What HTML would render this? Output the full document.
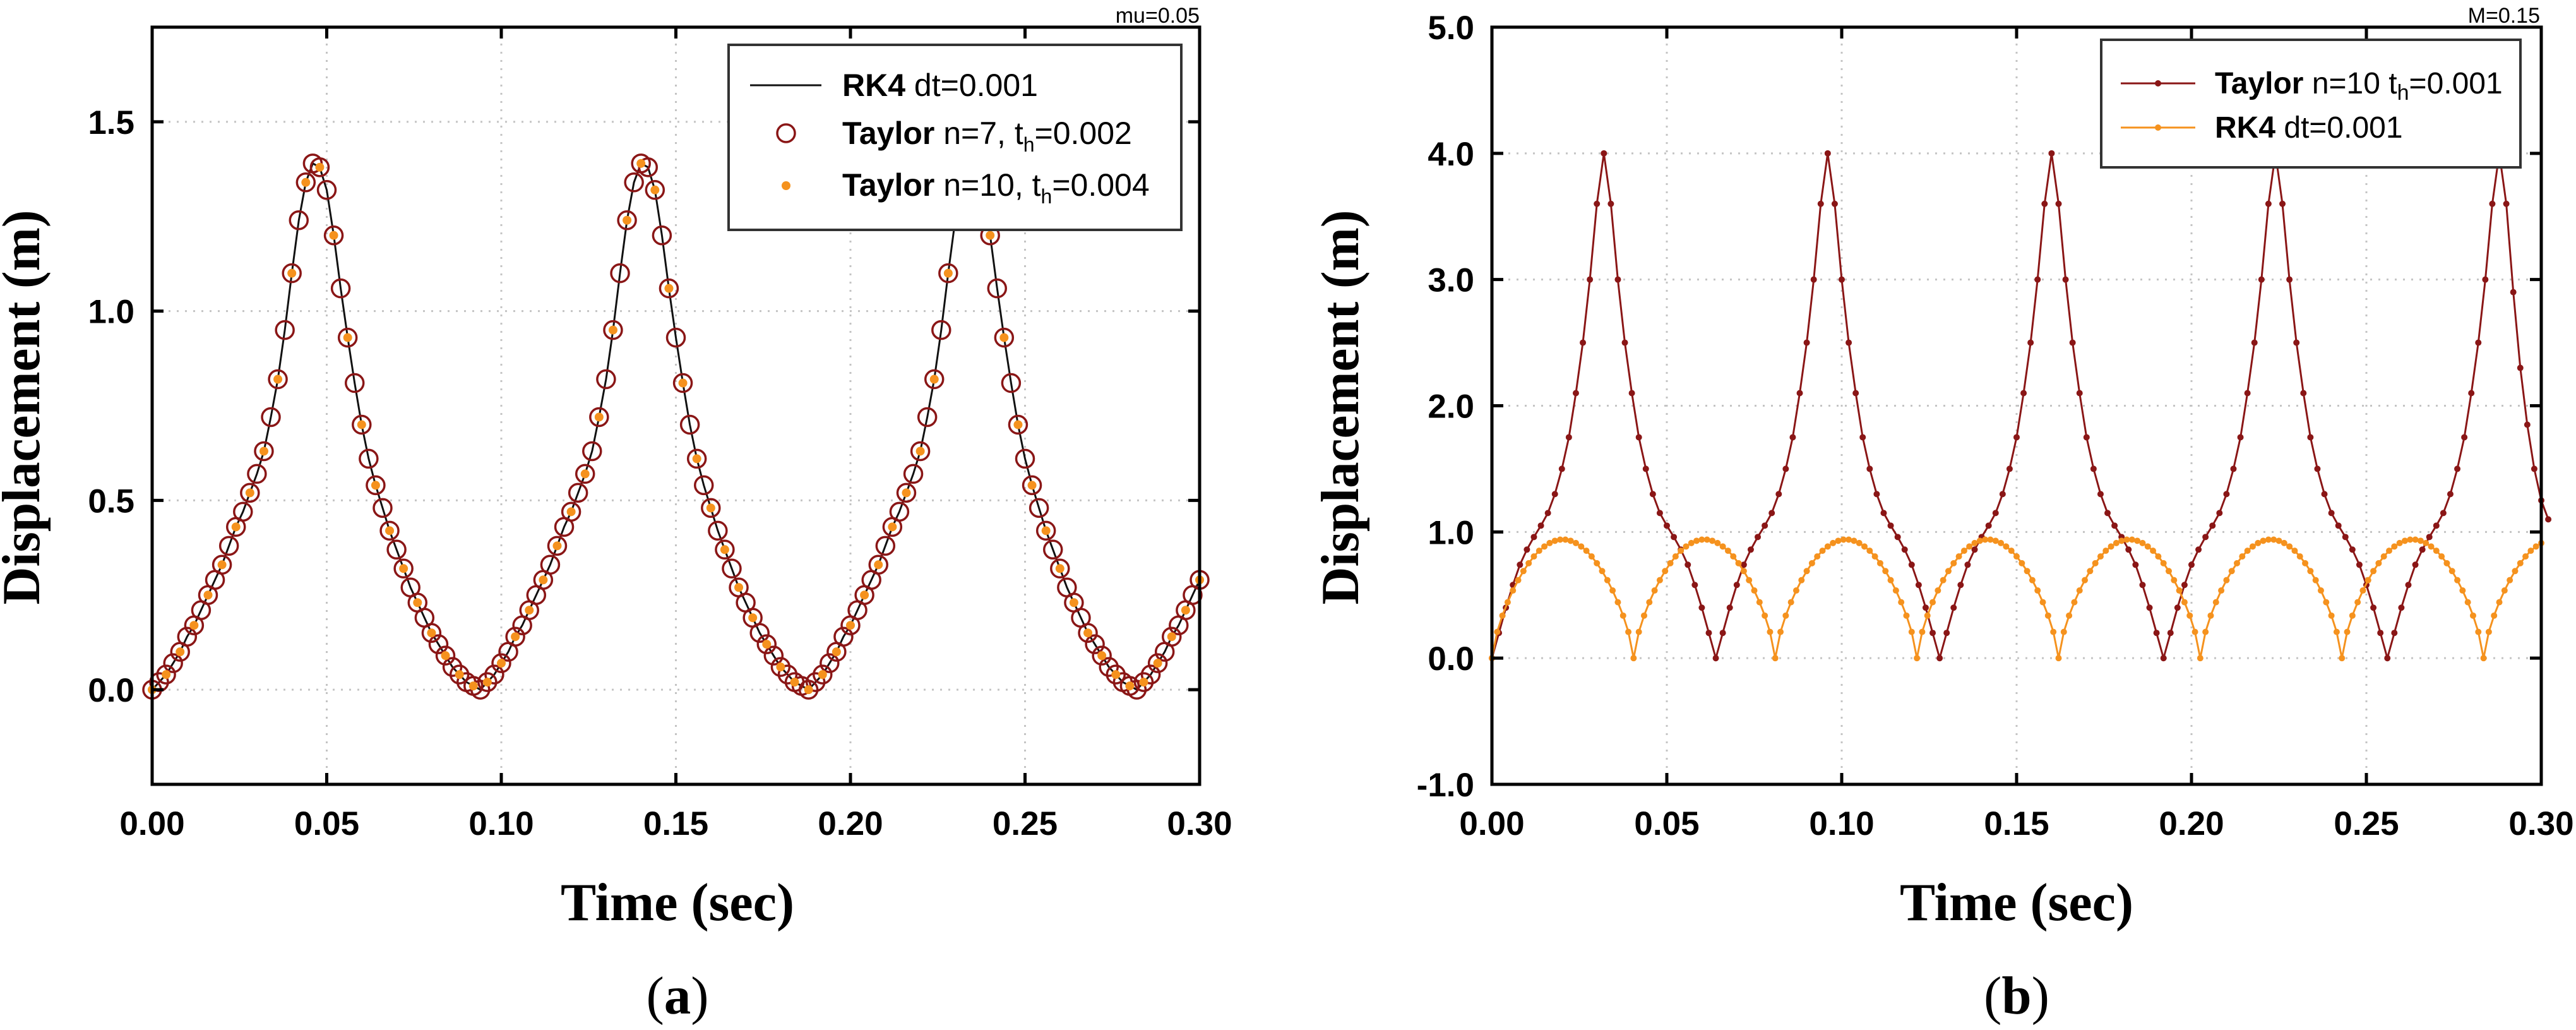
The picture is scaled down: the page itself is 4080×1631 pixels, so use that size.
<!DOCTYPE html>
<html><head><meta charset="utf-8"><style>
html,body{margin:0;padding:0;background:#fff;}
svg{display:block;}
</style></head><body>
<svg id="fig" width="4080" height="1631" viewBox="0 0 4080 1631" xmlns="http://www.w3.org/2000/svg">
<rect x="0" y="0" width="4080" height="1631" fill="#fff"/>
<g id="pa"></g>
<g id="pb"></g>
</svg>
<script>
// ---------- Panel (a) data ----------
const aDt = 0.002;
const aDotDt = 0.004;
const aTaylor7Y = [0,.02,.04,.07,.10,.14,.17,.21,.25,.29,.33,.38,.43,.47,.52,.57,.63,.72,.82,.95,1.10,1.24,1.34,1.39,1.38,1.32,1.20,1.06,.93,.81,.70,.61,.54,.48,.42,.37,.32,.27,.23,.19,.15,.12,.09,.06,.04,.02,.01,
0,.02,.04,.07,.10,.14,.17,.21,.25,.29,.33,.38,.43,.47,.52,.57,.63,.72,.82,.95,1.10,1.24,1.34,1.39,1.38,1.32,1.20,1.06,.93,.81,.70,.61,.54,.48,.42,.37,.32,.27,.23,.19,.15,.12,.09,.06,.04,.02,.01,
0,.02,.04,.07,.10,.14,.17,.21,.25,.29,.33,.38,.43,.47,.52,.57,.63,.72,.82,.95,1.10,1.24,1.34,1.39,1.38,1.32,1.20,1.06,.93,.81,.70,.61,.54,.48,.42,.37,.32,.27,.23,.19,.15,.12,.09,.06,.04,.02,.01,
0,.02,.04,.07,.10,.14,.17,.21,.25,.29];
const aRk4Y = [0,.02,.04,.07,.10,.14,.17,.21,.25,.29,.33,.38,.43,.47,.52,.57,.63,.72,.82,.95,1.10,1.24,1.34,1.39,1.38,1.32,1.20,1.06,.93,.81,.70,.61,.54,.48,.42,.37,.32,.27,.23,.19,.15,.12,.09,.06,.04,.02,.01,
0,.02,.04,.07,.10,.14,.17,.21,.25,.29,.33,.38,.43,.47,.52,.57,.63,.72,.82,.95,1.10,1.24,1.34,1.39,1.38,1.32,1.20,1.06,.93,.81,.70,.61,.54,.48,.42,.37,.32,.27,.23,.19,.15,.12,.09,.06,.04,.02,.01,
0,.02,.04,.07,.10,.14,.17,.21,.25,.29,.33,.38,.43,.47,.52,.57,.63,.72,.82,.95,1.10,1.24,1.34,1.39,1.38,1.32,1.20,1.06,.93,.81,.70,.61,.54,.48,.42,.37,.32,.27,.23,.19,.15,.12,.09,.06,.04,.02,.01,
0,.02,.04,.07,.10,.14,.17,.21,.25,.29];
const aTaylor10Y = [0,.04,.10,.17,.25,.33,.43,.52,.63,.82,1.10,1.34,1.38,1.20,.93,.70,.54,.42,.32,.23,.15,.09,.04,.01,
.02,.07,.14,.21,.29,.38,.47,.57,.72,.95,1.24,1.39,1.32,1.06,.81,.61,.48,.37,.27,.19,.12,.06,.02,0,
.04,.10,.17,.25,.33,.43,.52,.63,.82,1.10,1.34,1.38,1.20,.93,.70,.54,.42,.32,.23,.15,.09,.04,.01,
.02,.07,.14,.21,.29];
const aXTicks = [0,0.05,0.10,0.15,0.20,0.25,0.30];
const aXTickLabels = ["0.00","0.05","0.10","0.15","0.20","0.25","0.30"];
const aYTicks = [0,0.5,1.0,1.5];
const aYTickLabels = ["0.0","0.5","1.0","1.5"];

// ---------- Panel (b) data ----------
const bTaylorDt = 0.002;
const bRk4Dt = 0.0015;
const bTaylorY = [0,.2,.4,.58,.74,.86,.96,1.05,1.15,1.3,1.5,1.75,2.1,2.5,3.0,3.6,4.0,3.6,3.0,2.5,2.1,1.75,1.5,1.3,1.15,1.05,.96,.86,.74,.58,.4,.2,
0,.2,.4,.58,.74,.86,.96,1.05,1.15,1.3,1.5,1.75,2.1,2.5,3.0,3.6,4.0,3.6,3.0,2.5,2.1,1.75,1.5,1.3,1.15,1.05,.96,.86,.74,.58,.4,.2,
0,.2,.4,.58,.74,.86,.96,1.05,1.15,1.3,1.5,1.75,2.1,2.5,3.0,3.6,4.0,3.6,3.0,2.5,2.1,1.75,1.5,1.3,1.15,1.05,.96,.86,.74,.58,.4,.2,
0,.2,.4,.58,.74,.86,.96,1.05,1.15,1.3,1.5,1.75,2.1,2.5,3.0,3.6,4.0,3.6,3.0,2.5,2.1,1.75,1.5,1.3,1.15,1.05,.96,.86,.74,.58,.4,.2,
0,.2,.4,.58,.74,.86,.96,1.05,1.15,1.3,1.5,1.75,2.1,2.5,3.0,3.6,4.0,3.6,2.9,2.3,1.85,1.5,1.25,1.1];
const bRk4Y = [0,.208,.337,.443,.536,.618,.690,.752,.806,.851,.885,.912,.930,.939,.939,.930,.912,.885,.851,.806,.752,.690,.618,.536,.443,.337,.208,
0,.208,.337,.443,.536,.618,.690,.752,.806,.851,.885,.912,.930,.939,.939,.930,.912,.885,.851,.806,.752,.690,.618,.536,.443,.337,.208,
0,.208,.337,.443,.536,.618,.690,.752,.806,.851,.885,.912,.930,.939,.939,.930,.912,.885,.851,.806,.752,.690,.618,.536,.443,.337,.208,
0,.208,.337,.443,.536,.618,.690,.752,.806,.851,.885,.912,.930,.939,.939,.930,.912,.885,.851,.806,.752,.690,.618,.536,.443,.337,.208,
0,.208,.337,.443,.536,.618,.690,.752,.806,.851,.885,.912,.930,.939,.939,.930,.912,.885,.851,.806,.752,.690,.618,.536,.443,.337,.208,
0,.208,.337,.443,.536,.618,.690,.752,.806,.851,.885,.912,.930,.939,.939,.930,.912,.885,.851,.806,.752,.690,.618,.536,.443,.337,.208,
0,.208,.337,.443,.536,.618,.690,.752,.806,.851,.885,.912,.930,.939,.939,.930,.912,.885,.851,.806,.752,.690,.618,.536,.443,.337,.208,
0,.208,.337,.443,.536,.618,.690,.752,.806,.851,.885,.912];
const bXTicks = [0,0.05,0.10,0.15,0.20,0.25,0.30];
const bXTickLabels = ["0.00","0.05","0.10","0.15","0.20","0.25","0.30"];
const bYTicks = [-1,0,1,2,3,4,5];
const bYTickLabels = ["-1.0","0.0","1.0","2.0","3.0","4.0","5.0"];

const NS = "http://www.w3.org/2000/svg";
const DARKRED = "#8a1616";
const ORANGE = "#f5921e";
function mk(parent, tag, attrs, text){
  const e = document.createElementNS(NS, tag);
  for (const k in attrs) e.setAttribute(k, attrs[k]);
  if (text !== undefined) e.textContent = text;
  parent.appendChild(e);
  return e;
}
function makeAxes(g, box, xmin, xmax, ymin, ymax){
  const sx = t => box.L + (t - xmin) / (xmax - xmin) * (box.R - box.L);
  const sy = v => box.B - (v - ymin) / (ymax - ymin) * (box.B - box.T);
  return {sx, sy};
}
function drawFrame(g, box, ax, xt, xl, yt, yl){
  xt.forEach(t => {
    const x = ax.sx(t);
    if (x > box.L + 2 && x < box.R - 2) {
      const l = mk(g, "line", {x1:x, y1:box.T, x2:x, y2:box.B, stroke:"#c4c4c4", "stroke-width":3, "stroke-dasharray":"3 10"});
      
      
    }
  });
  yt.forEach(v => {
    const y = ax.sy(v);
    if (y > box.T + 2 && y < box.B - 2) {
      const l = mk(g, "line", {x1:box.L, y1:y, x2:box.R, y2:y, stroke:"#c4c4c4", "stroke-width":3, "stroke-dasharray":"3 10"});
      
      
    }
  });
}
function drawBorder(g, box, ax, xt, xl, yt, yl){
  const f = mk(g, "rect", {x:box.L, y:box.T, width:box.R-box.L, height:box.B-box.T, fill:"none", stroke:"#000", "stroke-width":5});
  
  
  xt.forEach((t,i) => {
    const x = ax.sx(t);
    const tk = mk(g, "path", {d:`M${x},${box.B}v-18M${x},${box.T}v18`, stroke:"#000", "stroke-width":5});
    
    
    const lb = mk(g, "text", {x:x, y:1322, "text-anchor":"middle", "font-family":"Liberation Sans, sans-serif", "font-weight":"bold", "font-size":53}, xl[i]);
    
    
  });
  yt.forEach((v,i) => {
    const y = ax.sy(v);
    const tk = mk(g, "path", {d:`M${box.L},${y}h18M${box.R},${y}h-18`, stroke:"#000", "stroke-width":5});
    
    
    const lb = mk(g, "text", {x:box.L-28, y:y+19, "text-anchor":"end", "font-family":"Liberation Sans, sans-serif", "font-weight":"bold", "font-size":53}, yl[i]);
    
    
  });
}
function linePath(ax, dt, ys){
  return ys.map((v,i) => (i ? "L" : "M") + ax.sx(i*dt).toFixed(1) + "," + ax.sy(v).toFixed(1)).join("");
}
function titles(g, cx, ylx, lab){
  const xt = mk(g, "text", {x:cx, y:1457, "text-anchor":"middle", "font-family":"Liberation Serif, serif", "font-weight":"bold", "font-size":85, textLength:370, lengthAdjust:"spacingAndGlyphs"}, "Time (sec)");
  
  
  const yt = mk(g, "text", {x:0, y:0, transform:`translate(${ylx},645) rotate(-90)`, "text-anchor":"middle", "font-family":"Liberation Serif, serif", "font-weight":"bold", "font-size":85, textLength:625, lengthAdjust:"spacingAndGlyphs"}, "Displacement (m)");
  
  
  const pl = mk(g, "text", {x:cx, y:1605, "text-anchor":"middle", "font-family":"Liberation Serif, serif", "font-size":85}, "");
  mk(pl, "tspan", {}, "(");
  mk(pl, "tspan", {"font-weight":"bold"}, lab);
  mk(pl, "tspan", {}, ")");
  
  
  return pl;
}

// ---------- Panel (a) ----------
(function(){
  const g = document.getElementById("pa");
  const box = {L:241, R:1900, T:43, B:1242};
  const ax = makeAxes(g, box, 0, 0.3, -0.25, 1.75);
  drawFrame(g, box, ax, aXTicks, aXTickLabels, aYTicks, aYTickLabels);
  const line = mk(g, "path", {d:linePath(ax, aDt, aRk4Y), fill:"none", stroke:"#111", "stroke-width":3});
  
  
  aTaylor7Y.forEach((v,i) => {
    const c = mk(g, "circle", {cx:ax.sx(i*aDt), cy:ax.sy(v), r:14, fill:"none", stroke:DARKRED, "stroke-width":3.5});
    
    
  });
  aTaylor10Y.forEach((v,i) => {
    const c = mk(g, "circle", {cx:ax.sx(i*aDotDt), cy:ax.sy(v), r:7, fill:ORANGE});
    
    
  });
  drawBorder(g, box, ax, aXTicks, aXTickLabels, aYTicks, aYTickLabels);
  const lg = mk(g, "g", {});
  
  
  mk(lg, "rect", {x:1154, y:71, width:717, height:293, fill:"#fff", stroke:"#333", "stroke-width":4});
  mk(lg, "line", {x1:1188, y1:135, x2:1301, y2:135, stroke:"#111", "stroke-width":3});
  mk(lg, "circle", {cx:1245, cy:211, r:14, fill:"none", stroke:DARKRED, "stroke-width":3.5});
  mk(lg, "circle", {cx:1245, cy:294, r:7, fill:ORANGE});
  const fs = {"font-family":"Liberation Sans, sans-serif", "font-size":50};
  const t1 = mk(lg, "text", Object.assign({x:1334, y:152}, fs));
  mk(t1, "tspan", {"font-weight":"bold"}, "RK4");
  mk(t1, "tspan", {}, " dt=0.001");
  
  
  const t2 = mk(lg, "text", Object.assign({x:1334, y:228}, fs));
  mk(t2, "tspan", {"font-weight":"bold"}, "Taylor");
  mk(t2, "tspan", {}, "  n=7, t");
  mk(t2, "tspan", {"font-size":32, dy:12}, "h");
  mk(t2, "tspan", {dy:-12}, "=0.002");
  
  
  const t3 = mk(lg, "text", Object.assign({x:1334, y:310}, fs));
  mk(t3, "tspan", {"font-weight":"bold"}, "Taylor");
  mk(t3, "tspan", {}, " n=10, t");
  mk(t3, "tspan", {"font-size":32, dy:12}, "h");
  mk(t3, "tspan", {dy:-12}, "=0.004");
  
  
  const note = mk(g, "text", {x:1900, y:36, "text-anchor":"end", "font-family":"Liberation Sans, sans-serif", "font-size":34}, "mu=0.05");
  
  
  titles(g, 1073, 62, "a");
})();

// ---------- Panel (b) ----------
(function(){
  const g = document.getElementById("pb");
  const box = {L:2363, R:4025, T:43, B:1242};
  const ax = makeAxes(g, box, 0, 0.3, -1, 5);
  drawFrame(g, box, ax, bXTicks, bXTickLabels, bYTicks, bYTickLabels);
  const tl = mk(g, "path", {d:linePath(ax, bTaylorDt, bTaylorY), fill:"none", stroke:DARKRED, "stroke-width":3});
  
  
  bTaylorY.forEach((v,i) => {
    const c = mk(g, "circle", {cx:ax.sx(i*bTaylorDt), cy:ax.sy(v), r:5, fill:DARKRED});
    
    
  });
  const rl = mk(g, "path", {d:linePath(ax, bRk4Dt, bRk4Y), fill:"none", stroke:ORANGE, "stroke-width":3});
  
  
  bRk4Y.forEach((v,i) => {
    const c = mk(g, "circle", {cx:ax.sx(i*bRk4Dt), cy:ax.sy(v), r:5, fill:ORANGE});
    
    
  });
  drawBorder(g, box, ax, bXTicks, bXTickLabels, bYTicks, bYTickLabels);
  const lg = mk(g, "g", {});
  
  
  mk(lg, "rect", {x:3328, y:63, width:664, height:202, fill:"#fff", stroke:"#333", "stroke-width":4});
  mk(lg, "line", {x1:3359, y1:132, x2:3477, y2:132, stroke:DARKRED, "stroke-width":3});
  mk(lg, "circle", {cx:3418, cy:132, r:5, fill:DARKRED});
  mk(lg, "line", {x1:3359, y1:202, x2:3477, y2:202, stroke:ORANGE, "stroke-width":3});
  mk(lg, "circle", {cx:3418, cy:202, r:5, fill:ORANGE});
  const fs = {"font-family":"Liberation Sans, sans-serif", "font-size":48};
  const t1 = mk(lg, "text", Object.assign({x:3508, y:148}, fs));
  mk(t1, "tspan", {"font-weight":"bold"}, "Taylor");
  mk(t1, "tspan", {}, " n=10 t");
  mk(t1, "tspan", {"font-size":34, dy:10}, "h");
  mk(t1, "tspan", {dy:-10}, "=0.001");
  
  
  const t2 = mk(lg, "text", Object.assign({x:3508, y:218}, fs));
  mk(t2, "tspan", {"font-weight":"bold"}, "RK4");
  mk(t2, "tspan", {}, " dt=0.001");
  
  
  const note = mk(g, "text", {x:4023, y:36, "text-anchor":"end", "font-family":"Liberation Sans, sans-serif", "font-size":34}, "M=0.15");
  
  
  titles(g, 3194, 2151, "b");
})();
</script>
</body></html>
